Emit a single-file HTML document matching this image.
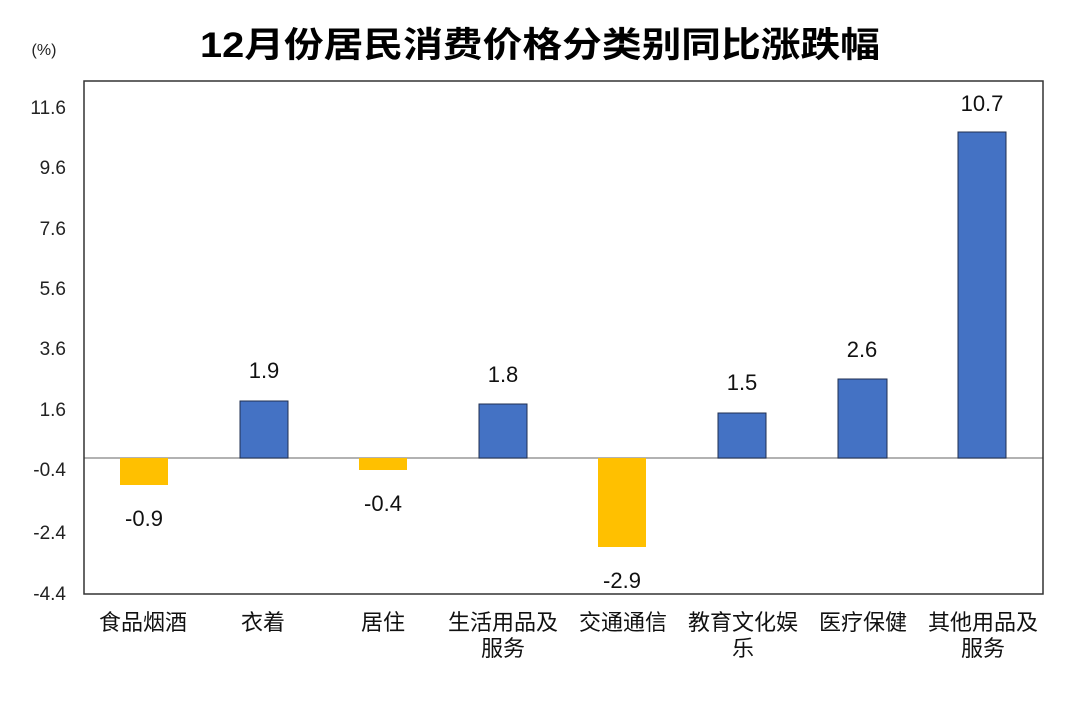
<!DOCTYPE html>
<html><head><meta charset="utf-8"><style>
body{margin:0;background:#fff;}
svg{display:block;font-family:"Liberation Sans","Noto Sans CJK SC",sans-serif;}
</style></head><body>
<svg width="1080" height="704" viewBox="0 0 1080 704">
<text x="540" y="57" text-anchor="middle" font-size="35" font-weight="bold" fill="#000" textLength="680" lengthAdjust="spacingAndGlyphs">12月份居民消费价格分类别同比涨跌幅</text>
<text x="44" y="55" text-anchor="middle" font-size="16" fill="#222">(%)</text>
<g font-size="19" fill="#222" text-anchor="end">
<text x="66" y="114">11.6</text>
<text x="66" y="174">9.6</text>
<text x="66" y="235">7.6</text>
<text x="66" y="295">5.6</text>
<text x="66" y="355">3.6</text>
<text x="66" y="416">1.6</text>
<text x="66" y="476">-0.4</text>
<text x="66" y="539">-2.4</text>
<text x="66" y="600">-4.4</text>
</g>
<line x1="84" y1="458" x2="1043" y2="458" stroke="#999" stroke-width="1.5"/>
<g stroke="#1f2f50" stroke-width="1">
<rect x="120" y="458" width="48" height="27" fill="#FFC000" stroke="none"/>
<rect x="240" y="401" width="48" height="57" fill="#4472C4"/>
<rect x="359" y="458" width="48" height="12" fill="#FFC000" stroke="none"/>
<rect x="479" y="404" width="48" height="54" fill="#4472C4"/>
<rect x="598" y="458" width="48" height="89" fill="#FFC000" stroke="none"/>
<rect x="718" y="413" width="48" height="45" fill="#4472C4"/>
<rect x="838" y="379" width="49" height="79" fill="#4472C4"/>
<rect x="958" y="132" width="48" height="326" fill="#4472C4"/>
</g>
<rect x="84" y="81" width="959" height="513" fill="none" stroke="#333" stroke-width="1.5"/>
<g font-size="22" fill="#111" text-anchor="middle">
<text x="144" y="526">-0.9</text>
<text x="264" y="378">1.9</text>
<text x="383" y="511">-0.4</text>
<text x="503" y="382">1.8</text>
<text x="622" y="588">-2.9</text>
<text x="742" y="390">1.5</text>
<text x="862" y="357">2.6</text>
<text x="982" y="111">10.7</text>
</g>
<g font-size="22" fill="#111" text-anchor="middle">
<text x="143" y="630">食品烟酒</text>
<text x="263" y="630">衣着</text>
<text x="383" y="630">居住</text>
<text x="503" y="630">生活用品及</text>
<text x="503" y="656">服务</text>
<text x="623" y="630">交通通信</text>
<text x="743" y="630">教育文化娱</text>
<text x="743" y="656">乐</text>
<text x="863" y="630">医疗保健</text>
<text x="983" y="630">其他用品及</text>
<text x="983" y="656">服务</text>
</g>
</svg>
</body></html>
